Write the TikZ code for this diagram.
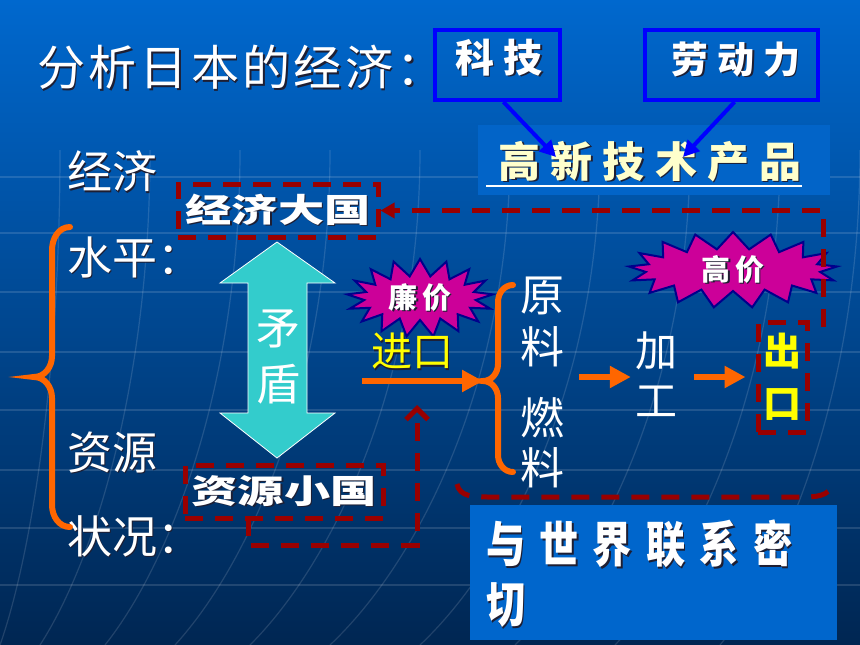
\documentclass[tikz,border=0pt]{standalone}
\usepackage{fontspec}
\usetikzlibrary{arrows.meta,shapes.symbols,calc}
\newfontfamily\cjk{Noto Sans CJK SC}
\newfontfamily\cjktitle[LetterSpace=7]{Noto Sans CJK SC}
\newfontfamily\cjkwide[FakeStretch=1.4]{Noto Sans CJK SC}
\newfontfamily\cjkcond[FakeStretch=0.8,LetterSpace=29]{Noto Sans CJK SC}
\newfontfamily\cjkls[LetterSpace=24]{Noto Sans CJK SC}
\newfontfamily\cjkburst[LetterSpace=14]{Noto Sans CJK SC}
\definecolor{bgtop}{RGB}{0,104,206}
\definecolor{bgmid}{RGB}{0,80,160}
\definecolor{bgbot}{RGB}{0,38,82}
\definecolor{dred}{RGB}{153,0,0}
\definecolor{orng}{RGB}{255,102,0}
\definecolor{pureblue}{RGB}{0,0,255}
\definecolor{cyanar}{RGB}{51,204,204}
\definecolor{magen}{RGB}{204,0,153}
\definecolor{navyb}{RGB}{0,0,140}
\definecolor{yel}{RGB}{255,255,0}
\definecolor{cream}{RGB}{255,255,204}
\definecolor{boxblue}{RGB}{0,102,204}
\definecolor{hibox}{RGB}{2,100,200}
\definecolor{shadowc}{RGB}{30,30,50}
\newcommand\shd[2]{\leavevmode\rlap{\kern#1\raisebox{-#1}{\textcolor{shadowc}{#2}}}#2}
\begin{document}
\begin{tikzpicture}[x=1pt,y=-1pt,
  dashred/.style={draw=dred, line width=5pt, dash pattern=on 18pt off 12pt},
  orarrow/.style={draw=orng, line width=6pt, -{Triangle[length=21pt,width=21pt]}},
  orbrace/.style={draw=orng, line width=6pt, line cap=round},
  bluebox/.style={draw=pureblue, line width=4pt, minimum height=70pt, inner sep=0pt},
  bluearr/.style={draw=pureblue, line width=4pt, -{Triangle[length=16pt,width=16pt]}},
  burst/.style={starburst, fill=magen, draw=navyb, line width=2pt, starburst points=17,
    starburst point height=17pt, random starburst=0, inner sep=0pt, text=white},
  wtxt/.style={inner sep=0pt, text=white},
  gridl/.style={draw=white, opacity=0.13, line width=1.2pt},
  redbox/.style={dashred, inner sep=0pt, minimum height=53pt, text=white}
]
\useasboundingbox (0,0) rectangle (860,645);
% background
\shade[top color=bgtop, middle color=bgmid, bottom color=bgbot] (0,0) rectangle (860,645);
\foreach \yy in {177,233,292,352,410,470,528,585}
  \draw[gridl] (0,\yy) -- (860,\yy);
\foreach \xt/\xb in {60/0,150/40,240/105,330/175,420/250,510/330,600/420,690/515,780/615,860/720}
  \draw[gridl] (\xt,150) .. controls (\xt,380) and ({(\xt+\xb)/2},560) .. (\xb,645);

% title
\node[wtxt, font=\cjktitle\fontsize{48}{48}\selectfont, anchor=west] (title) at (37,68) {\shd{1.5pt}{分析日本的经济：}};

% top boxes
\node[bluebox, minimum width=125pt] (kj) at (497.5,65) {};
\node[wtxt, font=\cjkls\bfseries\fontsize{39}{39}\selectfont] (kjt) at (499,58) {\shd{1.5pt}{科技}};
\node[bluebox, minimum width=173pt] (ldl) at (731.5,65) {};
\node[wtxt, font=\cjkls\bfseries\fontsize{37}{37}\selectfont] (ldlt) at (736,60) {\shd{1.5pt}{劳动力}};

\node[fill=hibox, minimum width=352pt, minimum height=70pt, inner sep=0pt] (gxbox) at (653.5,160) {};
\node[inner sep=0pt, text=cream, font=\cjkls\bfseries\fontsize{42}{42}\selectfont] (gx) at (650,162) {\shd{1.5pt}{高新技术产品}};
\draw[white, line width=1.5pt] (gxbox.west |- 0,186) ++(9,0) coordinate (ul1) -- ($(gxbox.east |- 0,186)+(-28,0)$) coordinate (ul2);
\coordinate (gxa) at (556,157);
\coordinate (gxb) at (683,157);
\draw[bluearr] ([xshift=6pt]kj.south) -- (gxa);
\draw[bluearr] ([xshift=3pt]ldl.south) -- (gxb);

% left labels
\node[wtxt, font=\cjk\fontsize{45}{45}\selectfont, anchor=west] (jj) at (67,172) {\shd{1.5pt}{经济}};
\node[wtxt, font=\cjk\fontsize{45}{45}\selectfont, anchor=west] (sp) at (67,258) {\shd{1.5pt}{水平：}};
\node[wtxt, font=\cjk\fontsize{45}{45}\selectfont, anchor=west] (zy) at (67,453) {\shd{1.5pt}{资源}};
\node[wtxt, font=\cjk\fontsize{45}{45}\selectfont, anchor=west] (zk) at (67,537) {\shd{1.5pt}{状况：}};
\draw[orbrace] (70,227) to[out=180,in=90] (52,250) -- (52,356) to[out=-90,in=0] (34,377)
  to[out=0,in=90] (52,398) -- (52,505) to[out=-90,in=180] (70,527);

% red boxes
\node[redbox, minimum width=200pt, font=\cjkwide\bfseries\fontsize{33}{33}\selectfont] (jjdg) at (278,210.5) {\shd{1.5pt}{经济大国}};
\node[redbox, minimum width=198pt, font=\cjkwide\bfseries\fontsize{33}{33}\selectfont] (zyxg) at (284,491.5) {\shd{1.5pt}{资源小国}};

% contradiction arrow
\fill[cyanar, draw=white, line width=0.8pt] (277,242) -- (335,283) -- (307,283) -- (307,413) -- (335,413)
  -- (277,458) -- (220,413) -- (248,413) -- (248,283) -- (220,283) -- cycle;
\node[wtxt, align=center, font=\cjk\fontsize{44}{56}\selectfont] (md) at (278,357) {矛\\盾};

% import
\node[burst, minimum width=146pt, minimum height=78pt, font=\cjkburst\bfseries\fontsize{29}{29}\selectfont] (lj) at (420,298) {\shd{1.5pt}{廉价}};
\node[inner sep=0pt, text=yel, font=\cjk\fontsize{41}{41}\selectfont] (jk) at (412,352) {\shd{1.5pt}{进口}};
\coordinate (jks) at (362,381);
\coordinate (btip) at (483,381);
\draw[orarrow] (jks) -- (btip);
\draw[orbrace] (513,285) to[out=180,in=90] (498,302) -- (498,364) to[out=-90,in=0] (btip)
  to[out=0,in=90] (498,398) -- (498,455) to[out=-90,in=180] (513,472);

\node[wtxt, align=center, font=\cjk\fontsize{44}{52}\selectfont] (yl) at (542,322) {原\\料};
\node[wtxt, align=center, font=\cjk\fontsize{44}{50}\selectfont] (rl) at (542,443) {燃\\料};
\node[wtxt, align=center, font=\cjk\fontsize{42}{50}\selectfont] (jg) at (656,374) {加\\工};
\node[dashred, inner sep=0pt, minimum width=49pt, minimum height=110pt, text=yel, align=center,
  font=\cjk\bfseries\fontsize{38}{52}\selectfont] (ck) at (782.5,377) {出\\口};
\coordinate (a2s) at (579,377);
\coordinate (a3s) at (694,377);
\draw[orarrow, shorten >=4pt] (a2s) -- (jg.west |- a2s);
\draw[orarrow, shorten >=10pt] (a3s) -- (ck.west |- a3s);

\node[burst, minimum width=209pt, minimum height=76pt, font=\cjkburst\bfseries\fontsize{29}{29}\selectfont] (gj) at (733,270) {\shd{1.5pt}{高价}};

% dashed connectors
\coordinate (ckup) at (823,327);
\draw[dashred, -{Triangle[length=14pt,width=15pt]}] (ckup) |- (jjdg.east);
\coordinate (zs) at (248,518);
\coordinate (ze) at (417,405);
\draw[dashred, -{Straight Barb[length=11pt,width=22pt]}] (zs) -- (248,545) -| (ze);
\draw[dashred] (457,484) to[out=-80,in=180] (488,497) -- (802,497) to[out=0,in=-100] (832,484);

% bottom box
\node[fill=boxblue, minimum width=367pt, minimum height=135pt, inner sep=0pt, anchor=north west] (lx) at (470,505) {};
\node[wtxt, anchor=north west, align=left, font=\cjkcond\bfseries\fontsize{49}{60}\selectfont] (lxt) at (486,520) {\shd{1.5pt}{与世界联系密}\\\shd{1.5pt}{切}};
\end{tikzpicture}
\end{document}
